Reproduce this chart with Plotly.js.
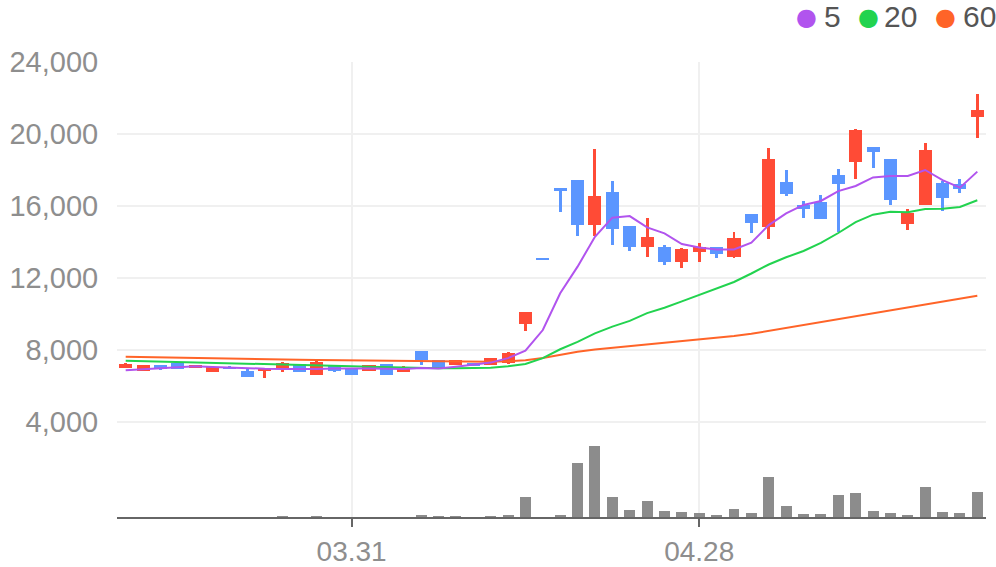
<!DOCTYPE html>
<html><head><meta charset="utf-8">
<script src="https://cdn.plot.ly/plotly-3.0.1.min.js"></script>
<style>html,body{margin:0;padding:0;background:#fff}#chart{width:996px;height:567px}</style>
</head><body><div id="chart"></div>
<script>
const dates = ['03.12','03.13','03.14','03.17','03.18','03.19','03.20','03.21','03.24','03.25','03.26','03.27','03.28',
 '03.31','04.01','04.02','04.03','04.04','04.07','04.08','04.09','04.10','04.11','04.14','04.15','04.16','04.17','04.18',
 '04.21','04.22','04.23','04.24','04.25','04.28','04.29','04.30','05.02','05.07','05.08','05.09','05.12','05.13','05.14',
 '05.15','05.16','05.19','05.20','05.21','05.22','05.23'];
const open  = [7000,6850,7170,7260,7000,6780,7070,6830,6830,6940,7220,6630,7110,6930,6850,7220,6790,7940,7440,7170,
 7260,7170,7260,9440,13110,16980,17440,14960,16780,14890,13740,13720,12910,13430,13720,13180,15560,14850,17330,16070,
 16240,17720,18460,19280,18610,15020,16070,17280,17200,20960];
const close = [7220,7170,6960,6940,7170,7040,6930,6520,7020,7280,6780,7330,6850,6630,7170,6630,7000,7440,6940,7440,
 7130,7560,7820,10090,13000,16850,14960,16560,14740,13740,14280,12910,13630,13700,13350,14220,15040,18610,16680,15850,
 15290,17240,20220,19020,16350,15630,19110,16460,16960,21330];
const high  = [7290,7170,7170,7260,7170,7110,7130,6960,7020,7330,7220,7430,7110,6930,7170,7220,7110,7940,7440,7440,
 7260,7560,7910,10090,13110,16980,17440,19170,17390,14890,15330,13830,13690,13940,13720,14560,15560,19220,18000,16280,
 16610,18060,20280,19280,18610,15830,19500,17410,17500,22220];
const low   = [7000,6850,6890,6940,7000,6780,6930,6520,6460,6800,6780,6630,6780,6630,6850,6630,6790,7180,6940,7170,
 7130,7170,7220,9060,13000,15680,14350,14350,13850,13520,13180,12740,12570,12910,13130,13130,14480,14180,16570,15350,
 15290,14570,17500,18130,16060,14670,16070,15740,16740,19790];
const volume = [6000,6000,4000,6000,4000,6000,4000,6000,6000,20000,6000,20000,6000,6000,6000,6000,6000,40000,20000,20000,
 10000,20000,40000,400000,10000,40000,1074000,1420000,394000,134000,314000,114000,94000,74000,34000,154000,74000,794000,
 214000,54000,54000,434000,474000,114000,74000,34000,594000,94000,74000,494000];
const ma5  = [6870,6920,6980,7040,7100,7060,7020,6980,6960,6950,6930,6950,6970,6950,6970,6960,6950,7000,6970,7070,
 7180,7300,7550,7960,9110,11150,12630,14290,15350,15440,14810,14480,13890,13700,13590,13590,13960,14940,15590,16060,
 16280,16830,17110,17590,17670,17670,18000,17440,17020,17910];
const ma20 = [7400,7380,7360,7340,7320,7300,7270,7250,7220,7190,7170,7140,7120,7100,7070,7040,7010,7000,6990,6980,
 6990,7020,7100,7220,7550,8040,8450,8920,9300,9620,10050,10350,10700,11050,11400,11780,12250,12750,13150,13500,
 13950,14500,15100,15520,15680,15650,15830,15850,15950,16320];
const ma60 = [7620,7600,7590,7570,7560,7540,7530,7510,7490,7470,7460,7450,7440,7430,7410,7400,7390,7380,7360,7350,
 7350,7350,7370,7430,7550,7730,7900,8030,8120,8210,8300,8390,8480,8570,8670,8780,8900,9060,9220,9380,
 9540,9700,9860,10020,10180,10340,10500,10680,10850,11020];
const priceTicks = [4000,8000,12000,16000,20000,24000];
const dateTicks = ['03.31','04.28'];
const maNames = ['5','20','60'];
const maColors = ['#B154EE','#22D34F','#FF6428'];

const upColor = '#FF4B36', downColor = '#5B96FF';
const candleColors = close.map((c,i)=> c >= open[i] ? upColor : downColor);
const bodyBase = open.map((o,i)=> Math.min(o, close[i]));
const bodyLen = open.map((o,i)=> Math.max(Math.abs(close[i]-o), 60));
const wickLen = high.map((h,i)=> h - low[i]);

const traces = [
 {type:'bar', x:dates, y:volume, yaxis:'y2', width:0.63, marker:{color:'#8C8C8C'}, hoverinfo:'skip', showlegend:false},
 {type:'bar', x:dates, y:wickLen, base:low, width:0.17, marker:{color:candleColors}, hoverinfo:'skip', showlegend:false},
 {type:'bar', x:dates, y:bodyLen, base:bodyBase, width:0.75, marker:{color:candleColors}, hoverinfo:'skip', showlegend:false},
 {type:'scatter', mode:'lines', x:dates, y:ma60, line:{color:maColors[2], width:2}, hoverinfo:'skip', showlegend:false},
 {type:'scatter', mode:'lines', x:dates, y:ma20, line:{color:maColors[1], width:2}, hoverinfo:'skip', showlegend:false},
 {type:'scatter', mode:'lines', x:dates, y:ma5, line:{color:maColors[0], width:2}, hoverinfo:'skip', showlegend:false}
];

const px2x = p => (p - 117) / 869;
const py2y = p => (517 - p) / 455;
const circX = [806.7, 868, 945.3];
const textX = [822, 882, 961];
const annotations = [];
maNames.forEach((n,i)=>{
  annotations.push({xref:'paper', yref:'paper', x:px2x(circX[i]), y:py2y(17), xanchor:'center', yanchor:'middle',
    text:'●', showarrow:false, font:{family:'DejaVu Sans', size:24, color:maColors[i]}});
  annotations.push({xref:'paper', yref:'paper', x:px2x(textX[i]), y:py2y(17), xanchor:'left', yanchor:'middle',
    text:n, showarrow:false, font:{family:'Liberation Sans, Arial, sans-serif', size:30, color:'#555555'}});
});

const layout = {
  width:996, height:567,
  margin:{l:117, r:10, t:62, b:50},
  paper_bgcolor:'#ffffff', plot_bgcolor:'#ffffff',
  barmode:'overlay', bargap:0,
  showlegend:false,
  font:{family:'Liberation Sans, Arial, sans-serif', color:'#8E8E8E'},
  xaxis:{type:'category', range:[-0.5, 49.5], tickvals:dateTicks, ticktext:dateTicks,
    showgrid:true, gridcolor:'#F0F0F0', gridwidth:2,
    showline:true, linecolor:'#666666', linewidth:2,
    ticks:'outside', ticklen:8, tickwidth:2, tickcolor:'#666666',
    ticklabelstandoff:0,
    tickfont:{size:28, color:'#8E8E8E'}, fixedrange:true},
  yaxis:{range:[-1278, 24000], tickvals:priceTicks, tickformat:',d',
    showgrid:true, gridcolor:'#F0F0F0', gridwidth:2, zeroline:false,
    ticks:'outside', ticklen:12, tickcolor:'rgba(0,0,0,0)',
    tickfont:{size:29, color:'#8E8E8E'}, fixedrange:true},
  yaxis2:{overlaying:'y', range:[0, 9100000], visible:false, showgrid:false, zeroline:false, fixedrange:true},
  annotations:annotations
};

Plotly.newPlot('chart', traces, layout, {displayModeBar:false, staticPlot:true});
</script>
</body></html>
